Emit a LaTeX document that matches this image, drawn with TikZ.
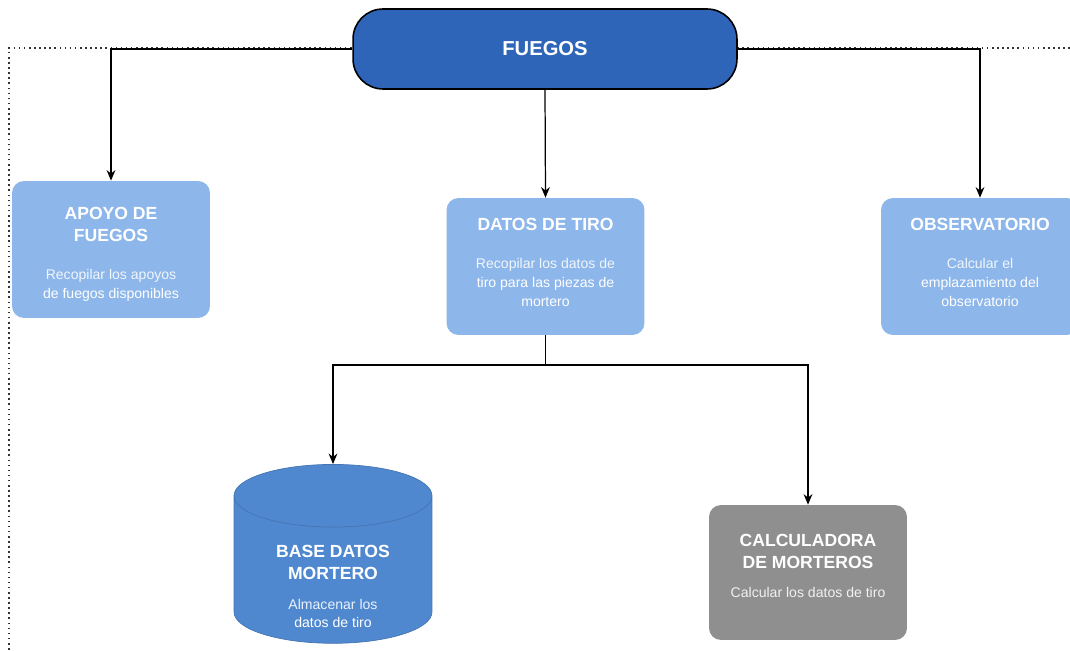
\documentclass[tikz,border=0pt]{standalone}
\usepackage{fontspec}
\setmainfont{Liberation Sans}
\usetikzlibrary{arrows.meta,shapes.geometric,positioning}
\definecolor{fuegosblue}{RGB}{46,101,185}
\definecolor{cardblue}{RGB}{141,182,234}
\definecolor{dbblue}{RGB}{80,136,208}
\definecolor{calcgray}{RGB}{143,143,143}
\newcommand{\ttl}[1]{{\fontsize{10}{12}\selectfont\bfseries #1}}

\begin{document}
\begin{tikzpicture}[
    x=0.02cm, y=-0.02cm,
    arrow/.style={draw=black, line width=0.7pt, -{Stealth[length=6pt,width=5pt]}},
    card/.style={rectangle, fill=cardblue, rounded corners=6.8pt, minimum width=3.96cm, minimum height=2.74cm, align=center, text=white, font=\fontsize{8}{10.8}\selectfont},
    topbox/.style={rectangle, draw=black, line width=0.9pt, fill=fuegosblue, rounded corners=0.6cm, minimum width=7.68cm, minimum height=1.6cm, text=white, font=\fontsize{11.5}{13}\selectfont\bfseries},
    dbase/.style={cylinder, shape border rotate=90, aspect=0.5, draw=dbblue!85!black, line width=0.4pt, fill=dbblue, minimum width=3.96cm, minimum height=3.3cm, align=center, text=white, font=\fontsize{8}{10.8}\selectfont},
    calcbox/.style={card, fill=calcgray, minimum height=2.7cm}
]
    \useasboundingbox (0,0) rectangle (1070,651);

    % frame
    \draw[dotted, line width=0.9pt, black!80] (9,670) |- (1090,48);

    \node[topbox] (fuegos) at (545,49) {FUEGOS};

    \node[card] (apoyo) at (111,249.5) {\ttl{\rule{0pt}{12.6pt}APOYO DE}\\[1.7pt]\ttl{FUEGOS}\\[10.7pt]\color{white!88!cardblue}Recopilar los apoyos\\de fuegos disponibles};
    \node[card] (datos) at (545.5,266.5) {\ttl{DATOS DE TIRO}\\[11.2pt]\color{white!88!cardblue}Recopilar los datos de\\tiro para las piezas de\\mortero\\[-6pt]\mbox{}};
    \node[card] (observ) at (980,266.5) {\ttl{OBSERVATORIO}\\[11.2pt]\color{white!88!cardblue}Calcular el\\emplazamiento del\\observatorio\\[-6pt]\mbox{}};

    \node[dbase] (basedatos) at (333,575) {\ttl{\rule{0pt}{13.6pt}BASE DATOS}\\[1.7pt]\ttl{MORTERO}\\[6.2pt]\color{white!88!dbblue}Almacenar los\\datos de tiro\\[-17.2pt]\mbox{}};
    \node[calcbox] (calc) at (808,572.5) {\ttl{CALCULADORA}\\[1.7pt]\ttl{DE MORTEROS}\\[5.7pt]\color{white!88!calcgray}Calcular los datos de tiro\\[-3pt]\mbox{}};

    \coordinate (split) at (545.5,365);

    \draw[arrow] (fuegos.west) -| (apoyo.north);
    \draw[arrow] (fuegos.south) -- (datos.north);
    \draw[arrow] (fuegos.east) -| (observ.north);
    \draw[line width=0.7pt] (datos.south) -- (split);
    \draw[arrow] (split) -| (basedatos.north);
    \draw[arrow] (split) -| (calc.north);
\end{tikzpicture}
\end{document}
